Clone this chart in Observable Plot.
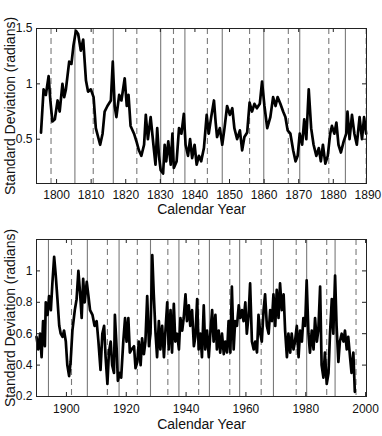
<!DOCTYPE html>
<html>
<head>
<meta charset="utf-8">
<script src="https://cdn.jsdelivr.net/npm/d3@7"></script>
<script src="https://cdn.jsdelivr.net/npm/@observablehq/plot@0.6"></script>
<style>
  html, body { margin: 0; padding: 0; background: #fff; }
  #chart svg { display: block; }
</style>
</head>
<body>
<div id="chart"></div>
<script>
// ---- Top panel data (1795–1890) ----
const topYears = [1795.5,1796.25,1796.9,1797.7,1798.2,1798.8,1799.5,1800.3,1800.9,1801.7,1802.2,1802.7,1803.65,1804.3,1804.9,1805.6,1806.25,1807.0,1807.7,1808.5,1809.1,1809.9,1810.7,1811.35,1812.6,1813.3,1813.9,1814.7,1815.7,1816.25,1816.8,1817.3,1818.1,1818.75,1819.7,1820.3,1820.8,1821.4,1822.4,1823.2,1823.8,1824.5,1825.3,1825.8,1826.4,1827.2,1828.0,1828.6,1829.1,1829.6,1830.1,1830.8,1831.25,1831.7,1832.3,1833.0,1833.5,1833.9,1834.7,1835.4,1836.1,1836.8,1837.3,1838.0,1838.6,1839.2,1839.9,1840.5,1841.15,1841.8,1842.6,1843.4,1844.0,1844.7,1845.5,1846.0,1846.4,1847.2,1847.9,1848.55,1849.3,1850.1,1850.8,1851.4,1852.2,1853.0,1853.65,1854.3,1855.1,1855.8,1856.5,1857.2,1857.9,1858.75,1859.4,1860.1,1860.9,1861.8,1862.6,1863.3,1863.9,1864.7,1865.5,1866.15,1866.8,1867.6,1868.4,1869.1,1869.7,1870.3,1871.0,1871.6,1872.2,1872.9,1873.6,1874.3,1875.1,1875.8,1876.4,1877.0,1877.7,1878.4,1879.1,1879.6,1880.3,1880.9,1881.5,1882.2,1883.0,1883.75,1884.1,1884.7,1885.4,1886.1,1886.8,1887.6,1888.3,1888.9,1889.5];
const topValues = [0.56,0.95,0.9,1.07,0.85,0.66,0.68,0.85,0.75,1.0,0.88,0.95,1.2,1.18,1.35,1.48,1.45,1.3,1.4,1.03,0.93,0.95,0.88,0.6,0.45,0.55,0.75,0.8,0.85,1.2,0.8,0.7,0.9,0.85,1.05,0.8,0.9,0.62,0.55,0.47,0.4,0.35,0.45,0.72,0.5,0.7,0.45,0.27,0.6,0.35,0.22,0.19,0.45,0.3,0.48,0.27,0.55,0.24,0.3,0.6,0.55,0.73,0.45,0.35,0.5,0.33,0.45,0.27,0.35,0.3,0.42,0.72,0.55,0.7,0.85,0.65,0.52,0.6,0.45,0.6,0.8,0.72,0.78,0.6,0.5,0.58,0.4,0.52,0.56,0.83,0.75,0.82,0.78,0.82,1.02,0.8,0.6,0.7,0.88,0.8,0.88,0.82,0.75,0.7,0.58,0.55,0.4,0.3,0.35,0.55,0.45,0.68,0.5,0.95,0.6,0.45,0.35,0.42,0.3,0.45,0.28,0.35,0.55,0.62,0.55,0.65,0.45,0.38,0.48,0.55,0.75,0.5,0.72,0.55,0.45,0.7,0.5,0.7,0.55];
const topMaxima = [1805.3,1816.4,1830.1,1837.1,1847.9,1859.9,1870.3,1883.5];
const topMinima = [1798.4,1810.6,1823.2,1833.8,1843.6,1855.8,1867.0,1878.7,1889.5];
const topXTicks = [1800,1810,1820,1830,1840,1850,1860,1870,1880,1890];
const topYTicks = [0.5,1,1.5];

// ---- Bottom panel data (1890–1997) ----
const botYears = [1890.0,1890.6,1891.2,1891.7,1892.2,1892.8,1893.1,1893.7,1894.2,1894.8,1895.3,1895.9,1896.4,1897.0,1897.6,1898.1,1898.7,1899.2,1899.8,1900.3,1900.9,1901.4,1902.0,1902.8,1903.4,1904.0,1904.6,1905.1,1905.6,1906.1,1906.8,1907.3,1907.9,1908.7,1909.4,1910.1,1910.7,1911.4,1912.0,1912.6,1913.1,1913.7,1914.2,1914.8,1915.3,1915.9,1916.2,1916.8,1917.2,1917.8,1918.3,1919.0,1919.6,1920.1,1920.7,1921.2,1921.8,1922.6,1923.1,1923.7,1924.2,1924.8,1925.3,1925.9,1926.4,1927.0,1927.6,1928.1,1928.7,1929.2,1929.8,1930.3,1930.9,1931.4,1932.0,1932.6,1933.1,1933.7,1934.2,1934.8,1935.3,1935.9,1936.4,1937.0,1937.6,1938.1,1938.7,1939.2,1939.8,1940.3,1940.9,1941.4,1942.0,1942.6,1943.1,1943.7,1944.2,1944.8,1945.3,1945.9,1946.4,1947.0,1947.6,1948.1,1948.7,1949.2,1949.8,1950.3,1950.9,1951.4,1952.0,1952.6,1953.1,1953.7,1954.2,1954.8,1955.3,1955.9,1956.4,1957.0,1957.6,1958.1,1958.7,1959.2,1959.8,1960.3,1960.9,1961.4,1962.0,1962.6,1963.1,1963.7,1964.2,1964.8,1965.3,1965.9,1966.4,1967.0,1967.6,1968.1,1968.7,1969.2,1969.8,1970.3,1970.9,1971.4,1972.0,1972.6,1973.1,1973.7,1974.2,1974.8,1975.3,1975.9,1976.4,1977.0,1977.6,1978.1,1978.7,1979.2,1979.8,1980.3,1980.9,1981.4,1982.0,1982.6,1983.1,1983.7,1984.2,1984.8,1985.3,1985.9,1986.4,1987.0,1987.6,1988.1,1988.7,1989.2,1989.8,1990.3,1990.9,1991.4,1992.0,1992.6,1993.1,1993.7,1994.2,1994.8,1995.3,1995.9,1996.4];
const botValues = [0.58,0.5,0.6,0.45,0.68,0.52,0.8,0.72,0.84,0.75,0.92,1.09,0.98,0.82,0.65,0.6,0.58,0.62,0.55,0.4,0.33,0.42,0.62,0.75,0.82,1.0,0.85,0.7,0.95,0.8,0.93,0.85,0.75,0.72,0.65,0.68,0.55,0.37,0.6,0.65,0.45,0.28,0.48,0.55,0.4,0.35,0.72,0.5,0.3,0.35,0.32,0.55,0.7,0.55,0.7,0.48,0.5,0.52,0.38,0.42,0.55,0.4,0.57,0.47,0.55,0.84,0.52,0.6,1.1,0.85,0.6,0.45,0.68,0.5,0.65,0.45,0.62,0.8,0.5,0.75,0.48,0.79,0.55,0.6,0.5,0.7,0.62,0.7,0.85,0.68,0.78,0.65,0.75,0.52,0.58,0.82,0.5,0.6,0.45,0.78,0.5,0.62,0.45,0.6,0.75,0.55,0.72,0.5,0.62,0.48,0.6,0.47,0.55,0.48,0.68,0.48,0.9,0.5,0.68,0.65,0.78,0.7,0.75,0.68,0.8,0.6,0.72,0.92,0.55,0.5,0.55,0.48,0.72,0.6,0.55,0.75,0.85,0.65,0.6,0.75,0.68,0.85,0.65,0.88,0.7,0.92,0.75,0.85,0.62,0.45,0.6,0.48,0.6,0.5,0.55,0.65,0.45,0.62,0.55,0.7,0.65,0.94,0.6,0.48,0.62,0.5,0.7,0.55,0.62,0.9,0.4,0.32,0.48,0.28,0.35,0.6,0.82,0.6,0.97,0.65,0.42,0.55,0.6,0.55,0.62,0.5,0.58,0.45,0.35,0.48,0.23];
const botMaxima = [1894.0,1907.0,1917.6,1928.1,1937.6,1947.8,1957.9,1969.2,1980.3,1989.8];
const botMinima = [1901.7,1913.7,1923.7,1933.9,1944.2,1954.6,1965.1,1976.8,1987.0,1996.8];
const botXTicks = [1900,1920,1940,1960,1980,2000];
const botYTicks = [0.2,0.4,0.6,0.8,1];

const FONT = "'Liberation Sans', Arial, Helvetica, sans-serif";
const W = 382, H = 218, ML = 36, MR = 16;

function panel({years, values, maxima, minima, xTicks, yTicks, xDomain, yDomain, mt, mb, tickPad, labelDy}) {
  const data = years.map((y, i) => ({year: y, value: values[i]}));
  const innerH = H - mt - mb;
  const innerW = W - ML - MR;
  const tl = 4;
  const inX = xTicks.filter(t => t >= xDomain[0] && t <= xDomain[1]);
  return Plot.plot({
    width: W, height: H,
    marginTop: mt, marginBottom: mb, marginLeft: ML, marginRight: MR,
    style: {fontFamily: FONT, background: "white", color: "#111", overflow: "visible"},
    x: {domain: xDomain},
    y: {domain: yDomain},
    marks: [
      Plot.ruleX(maxima, {x: d => d, stroke: "#7a7a7a", strokeWidth: 1.1}),
      Plot.ruleX(minima, {x: d => d, stroke: "#7a7a7a", strokeWidth: 1.1, strokeDasharray: "6,4"}),
      Plot.line(data, {x: "year", y: "value", stroke: "black", strokeWidth: 2.7, strokeLinejoin: "round"}),
      Plot.frame({stroke: "#222", strokeWidth: 1}),
      Plot.tickX(inX, {x: d => d, insetTop: innerH - tl, stroke: "#222"}),
      Plot.tickX(inX, {x: d => d, insetBottom: innerH - tl, stroke: "#222"}),
      Plot.tickY(yTicks, {y: d => d, insetRight: innerW - tl, stroke: "#222"}),
      Plot.tickY(yTicks, {y: d => d, insetLeft: innerW - tl, stroke: "#222"}),
      Plot.axisX(xTicks, {tickSize: 0, tickPadding: tickPad, fontSize: 12, label: null, tickFormat: d => String(d)}),
      Plot.axisY(yTicks, {tickSize: 0, tickPadding: 4, fontSize: 12, label: null, tickFormat: d => String(d)}),
      Plot.text(["Calendar Year"], {frameAnchor: "bottom", dy: labelDy, lineAnchor: "middle", textAnchor: "middle", fontSize: 14, fill: "#111"}),
      Plot.text(["Standard Deviation (radians)"], {frameAnchor: "left", rotate: -90, dx: -26, textAnchor: "middle", lineAnchor: "middle", fontSize: 14, fill: "#111"})
    ]
  });
}

const chart = document.getElementById("chart");
chart.append(panel({
  years: topYears, values: topValues, maxima: topMaxima, minima: topMinima,
  xTicks: topXTicks, yTicks: topYTicks, xDomain: [1794.2, 1889.6], yDomain: [0.1, 1.5],
  mt: 28, mb: 35, tickPad: 7, labelDy: 26
}));
chart.append(panel({
  years: botYears, values: botValues, maxima: botMaxima, minima: botMinima,
  xTicks: botXTicks, yTicks: botYTicks, xDomain: [1890, 2000.3], yDomain: [0.2, 1.2],
  mt: 21, mb: 40, tickPad: 8, labelDy: 28
}));
</script>
</body>
</html>
